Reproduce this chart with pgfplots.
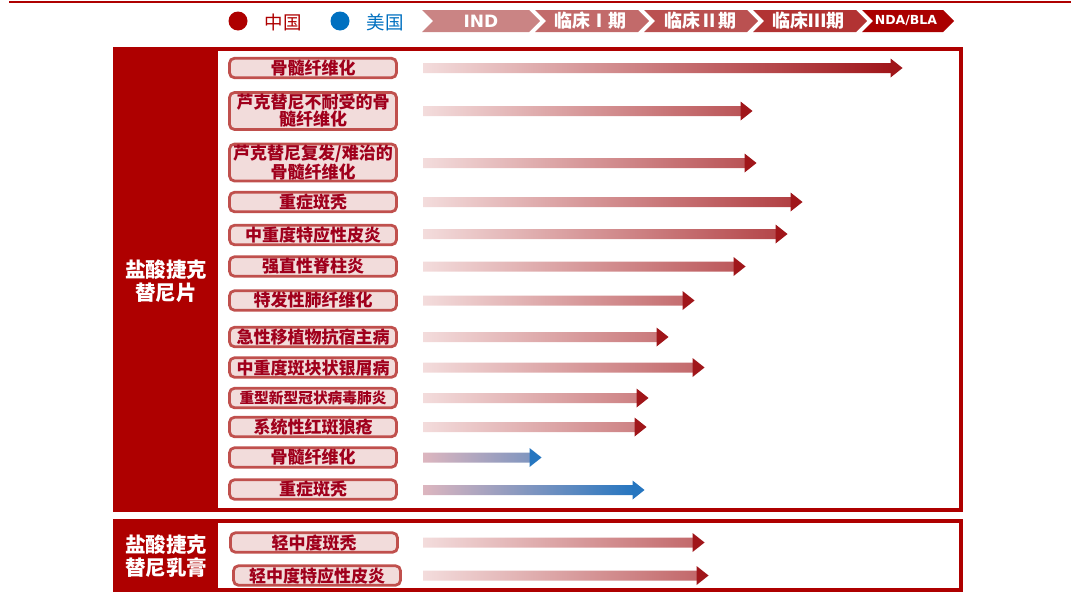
\documentclass[border=0pt]{standalone}
\usepackage{pgfplots}
\pgfplotsset{compat=1.18}
\usepackage{pgfplotstable}
\usepackage{fontspec}
\newfontfamily\cjk{Noto Sans CJK SC}
\newfontfamily\dvs{DejaVu Sans}
\definecolor{dred}{HTML}{AE0000}
\definecolor{labfill}{HTML}{F2DCDB}
\definecolor{labdraw}{HTML}{C0504D}
\definecolor{labtext}{HTML}{A0001C}
\definecolor{arrL}{HTML}{F3DCDC}
\definecolor{arrR}{HTML}{A0161A}
\definecolor{bluL}{HTML}{DDB6BF}
\definecolor{bluR}{HTML}{2676C0}
\definecolor{usblue}{HTML}{0070C0}
\definecolor{chA}{HTML}{CA8484}
\definecolor{chB}{HTML}{C26A6A}
\definecolor{chC}{HTML}{BA5151}
\definecolor{chD}{HTML}{B23333}
\definecolor{chE}{HTML}{AA0000}

\pgfdeclareplotmark{ahead}{%
  \pgfpathmoveto{\pgfqpoint{-0.5pt}{9.5pt}}%
  \pgfpathlineto{\pgfqpoint{11.5pt}{0pt}}%
  \pgfpathlineto{\pgfqpoint{-0.5pt}{-9.5pt}}%
  \pgfpathclose\pgfusepathqfill}

% arrow shaft end (px from arrow start at x=423) for each row (y in px)
\pgfplotstableread{
y len
68 468
111 318
163 322
202 368
234 353
266.5 311
300.5 260
337 234
367.5 270
398 214
427 212
542.5 270
575.5 274
}\redarrows
\pgfplotstableread{
y len
457.5 107
490 210
}\bluearrows

\tikzset{
  lab/.style={draw=labdraw, fill=labfill, line width=2.8pt, rounded corners=5pt,
  minimum width=167pt, minimum height=19.5pt, inner sep=0pt, text=labtext,
  font=\cjk\bfseries\fontsize{17}{17}\selectfont, align=center},
  lab2/.style={lab, minimum height=37pt}}
\pgfplotsset{frame/.style={scale only axis, width=1071pt, height=592pt,
  at={(0pt,0pt)}, anchor=south west, ymin=0, ymax=592, y dir=reverse,
  hide axis, clip=false}}

\begin{document}
\begin{tikzpicture}
\useasboundingbox (0,0) rectangle (1071pt,592pt);
\begin{axis}[frame, xmin=0, xmax=1071]
% top rule
\draw[dred, line width=2pt] (axis cs:9,2) -- (axis cs:1071,2);
% legend
\fill[dred] (axis cs:238,21) circle[radius=9.5pt];
\node[text=dred, font=\cjk\fontsize{18.5}{18.5}\selectfont] at (axis cs:283,22) {中国};
\fill[usblue] (axis cs:340,21) circle[radius=9.5pt];
\node[text=usblue, font=\cjk\fontsize{18.5}{18.5}\selectfont] at (axis cs:385,22) {美国};
% chevrons
\fill[chA] (axis cs:422,10) -- (axis cs:529,10) -- (axis cs:540,21) -- (axis cs:529,32) -- (axis cs:422,32) -- (axis cs:433,21) -- cycle;
\fill[chB] (axis cs:535,10) -- (axis cs:638,10) -- (axis cs:649,21) -- (axis cs:638,32) -- (axis cs:535,32) -- (axis cs:546,21) -- cycle;
\fill[chC] (axis cs:644,10) -- (axis cs:747,10) -- (axis cs:758,21) -- (axis cs:747,32) -- (axis cs:644,32) -- (axis cs:655,21) -- cycle;
\fill[chD] (axis cs:753,10) -- (axis cs:856,10) -- (axis cs:867,21) -- (axis cs:856,32) -- (axis cs:753,32) -- (axis cs:764,21) -- cycle;
\fill[chE] (axis cs:862,10) -- (axis cs:943,10) -- (axis cs:954,21) -- (axis cs:943,32) -- (axis cs:862,32) -- (axis cs:873,21) -- cycle;
\node[white, font=\dvs\bfseries\fontsize{17}{17}\selectfont] at (axis cs:481,21) {IND};
\node[white, font=\cjk\bfseries\fontsize{18}{18}\selectfont] at (axis cs:590,21) {临床Ⅰ期};
\node[white, font=\cjk\bfseries\fontsize{18}{18}\selectfont] at (axis cs:700,21) {临床Ⅱ期};
\node[white, font=\cjk\bfseries\fontsize{18}{18}\selectfont] at (axis cs:808,21) {临床Ⅲ期};
\node[white, font=\dvs\bfseries\fontsize{12.5}{12.5}\selectfont] at (axis cs:906,21) {NDA/BLA};
% panels
\draw[dred, line width=4pt] (axis cs:115,49.2) rectangle (axis cs:960.5,510.3);
\fill[dred] (axis cs:113,47.2) rectangle (axis cs:218,512.3);
\draw[dred, line width=4pt] (axis cs:115,521) rectangle (axis cs:960.5,590.2);
\fill[dred] (axis cs:113,519) rectangle (axis cs:218,592);
\node[white, align=center, font=\cjk\bfseries\fontsize{20.5}{23}\selectfont] at (axis cs:166,281) {盐酸捷克\\替尼片};
\node[white, align=center, font=\cjk\bfseries\fontsize{20.5}{23}\selectfont] at (axis cs:166,556) {盐酸捷克\\替尼乳膏};
% labels
\node[lab] at (axis cs:313,68) {骨髓纤维化};
\node[lab2] at (axis cs:313,111) {芦克替尼不耐受的骨\\髓纤维化};
\node[lab2] at (axis cs:313,162.5) {芦克替尼复发/难治的\\骨髓纤维化};
\node[lab] at (axis cs:313,202) {重症斑秃};
\node[lab] at (axis cs:313,235) {中重度特应性皮炎};
\node[lab] at (axis cs:313,266.5) {强直性脊柱炎};
\node[lab] at (axis cs:313,300.5) {特发性肺纤维化};
\node[lab] at (axis cs:313,337) {急性移植物抗宿主病};
\node[lab] at (axis cs:313,367.5) {中重度斑块状银屑病};
\node[lab, font=\cjk\bfseries\fontsize{14.7}{15}\selectfont] at (axis cs:313,398) {重型新型冠状病毒肺炎};
\node[lab] at (axis cs:313,427) {系统性红斑狼疮};
\node[lab] at (axis cs:313,457.5) {骨髓纤维化};
\node[lab] at (axis cs:313,489.5) {重症斑秃};
\node[lab] at (axis cs:314,542.5) {轻中度斑秃};
\node[lab] at (axis cs:317,575.5) {轻中度特应性皮炎};
\end{axis}
\begin{axis}[frame, xmin=-423, xmax=648]
\addplot[xbar, bar shift=0pt, bar width=10pt, draw=none, left color=arrL, right color=arrR]
  table[x=len, y=y] {\redarrows};
\addplot[only marks, mark=ahead, mark options={fill=arrR, draw=none}, fill=arrR]
  table[x=len, y=y] {\redarrows};
\addplot[xbar, bar shift=0pt, bar width=10pt, draw=none, left color=bluL, right color=bluR]
  table[x=len, y=y] {\bluearrows};
\addplot[only marks, mark=ahead, mark options={fill=bluR, draw=none}, fill=bluR]
  table[x=len, y=y] {\bluearrows};
\end{axis}
\end{tikzpicture}
\end{document}
